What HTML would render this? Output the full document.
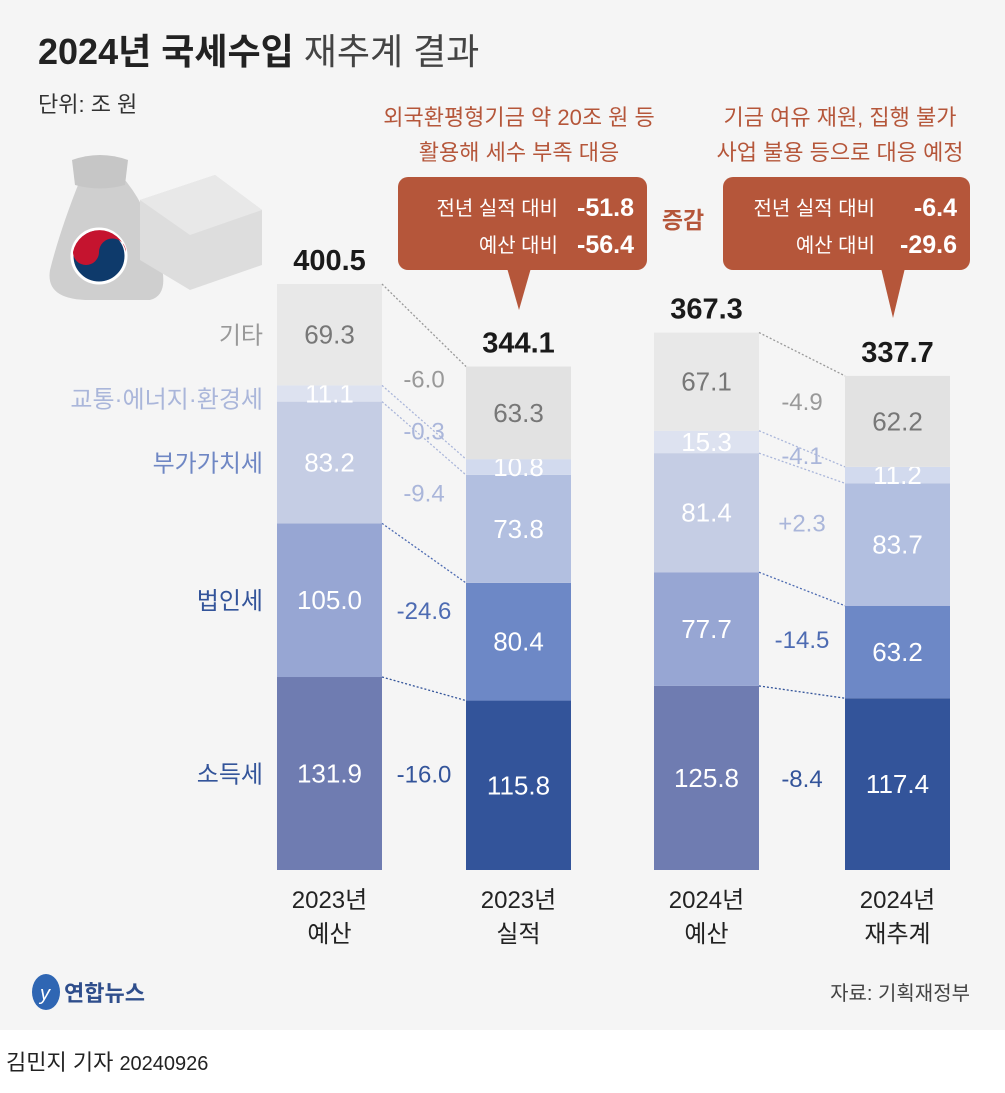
<!DOCTYPE html>
<html><head><meta charset="utf-8"><style>
body{margin:0;background:#fff;}
svg{display:block;font-family:"Liberation Sans","Noto Sans CJK KR",sans-serif;}
</style></head><body>
<svg id="chart" width="1005" height="1093" viewBox="0 0 1005 1093">
<rect x="0" y="0" width="1005" height="1030" fill="#f5f5f5"/>
<text x="38" y="64" font-size="36" font-weight="bold" fill="#222">2024년 국세수입 <tspan font-weight="normal" fill="#444">재추계 결과</tspan></text>
<text x="38" y="112" font-size="22" fill="#333">단위: 조 원</text>
<g>
<path d="M80 180 Q60 230 50 270 Q45 300 90 300 L150 300 Q170 295 160 260 Q150 210 125 180 Z" fill="#cfcfcf"/>
<path d="M72 160 Q100 150 128 160 L125 185 Q100 192 75 185 Z" fill="#c6c6c6"/>
<circle cx="99" cy="256" r="27" fill="#0e3a6b" stroke="#fff" stroke-width="3"/>
<path d="M73 252 A27 27 0 0 1 126 252 A13 13 0 0 0 99 252 A13 13 0 0 1 73 252Z" fill="#c5142f"/>
<path d="M140 200 L215 175 L262 210 L262 265 L190 290 L140 260Z" fill="#ddd"/>
<path d="M140 200 L215 175 L262 210 L190 235Z" fill="#e8e8e8"/>
</g>
<g id="callouts">
<text x="519" y="125" font-size="22" fill="#b5563a" text-anchor="middle">외국환평형기금 약 20조 원 등</text>
<text x="519" y="160" font-size="22" fill="#b5563a" text-anchor="middle">활용해 세수 부족 대응</text>
<text x="840" y="125" font-size="22" fill="#b5563a" text-anchor="middle">기금 여유 재원, 집행 불가</text>
<text x="840" y="160" font-size="22" fill="#b5563a" text-anchor="middle">사업 불용 등으로 대응 예정</text>
<g>
<rect x="398" y="177" width="249" height="93" rx="10" fill="#b5563a"/>
<path d="M507 268 L531 268 L519 310Z" fill="#b5563a"/>
<text x="558" y="215" font-size="20" fill="#fff" text-anchor="end">전년 실적 대비</text>
<text x="634" y="216" font-size="25" font-weight="bold" fill="#fff" text-anchor="end">-51.8</text>
<text x="558" y="252" font-size="20" fill="#fff" text-anchor="end">예산 대비</text>
<text x="634" y="253" font-size="25" font-weight="bold" fill="#fff" text-anchor="end">-56.4</text>
</g>
<g>
<rect x="723" y="177" width="247" height="93" rx="10" fill="#b5563a"/>
<path d="M881 268 L905 268 L893 318Z" fill="#b5563a"/>
<text x="875" y="215" font-size="20" fill="#fff" text-anchor="end">전년 실적 대비</text>
<text x="957" y="216" font-size="25" font-weight="bold" fill="#fff" text-anchor="end">-6.4</text>
<text x="875" y="252" font-size="20" fill="#fff" text-anchor="end">예산 대비</text>
<text x="957" y="253" font-size="25" font-weight="bold" fill="#fff" text-anchor="end">-29.6</text>
</g>
<text x="683" y="228" font-size="23" font-weight="bold" fill="#b5563a" text-anchor="middle">증감</text>
</g>
<g id="bars"></g>
<g>
<ellipse cx="46" cy="992" rx="14" ry="18" fill="#2f66b3"/>
<text x="40" y="1000" font-size="20" font-style="italic" fill="#fff">y</text>
<text x="64" y="1001" font-size="22" font-weight="bold" fill="#2f4e8c">연합뉴스</text>
</g>
<text x="970" y="1000" font-size="20" fill="#444" text-anchor="end">자료: 기획재정부</text>
<text x="6" y="1070" font-size="22" fill="#222">김민지 기자  <tspan font-size="20">20240926</tspan></text>
</svg>
<script>
const categories = ["2023년|예산","2023년|실적","2024년|예산","2024년|재추계"];
const taxNames = ["소득세","법인세","부가가치세","교통·에너지·환경세","기타"];
const incomeTax = [131.9,115.8,125.8,117.4];
const corpTax = [105.0,80.4,77.7,63.2];
const vat = [83.2,73.8,81.4,83.7];
const trafficTax = [11.1,10.8,15.3,11.2];
const otherTax = [69.3,63.3,67.1,62.2];
const totals = ["400.5","344.1","367.3","337.7"];
const deltas2023 = ["-16.0","-24.6","-9.4","-0.3","-6.0"];
const deltas2024 = ["-8.4","-14.5","+2.3","-4.1","-4.9"];

const series = [incomeTax, corpTax, vat, trafficTax, otherTax];
const NS = "http://www.w3.org/2000/svg";
const g = document.getElementById("bars");
const base = 870, scale = 586/400.5;
const y = v => base - v*scale;
const barX = [277,466,654,845], barW = 105;
const colorsBudget = ["#6f7cb1","#97a6d3","#c5cde4","#dde2f0","#e8e8e8"];
const colorsActual = ["#33549a","#6d88c6","#b2bfe0","#d2daee","#e2e2e2"];
const textColors = ["#fff","#fff","#fff","#fff","#777"];
const deltaColors = ["#33549a","#4d6bb2","#aab6da","#aab6da","#999"];
const labelColors = ["#33549a","#33549a","#6f87c4","#aab6da","#999"];

function mk(tag, attrs, txt){
  const e = document.createElementNS(NS, tag);
  for (const k in attrs) e.setAttribute(k, attrs[k]);
  if (txt !== undefined) e.textContent = txt;
  g.appendChild(e);
  return e;
}
const tops = [];
for (let b=0;b<4;b++){
  let cum=0; const t=[];
  const cols = (b%2===0)?colorsBudget:colorsActual;
  for (let s=0;s<5;s++){
    const v=series[s][b];
    const y0=y(cum), y1=y(cum+v);
    const r=mk("rect",{x:barX[b],y:y1,width:barW,height:y0-y1,fill:cols[s]});
    
    
    const tx=mk("text",{x:barX[b]+barW/2,y:(y0+y1)/2+9,"font-size":26,fill:textColors[s],"text-anchor":"middle"},v.toFixed(1));
    
    
    cum+=v; t.push(y1);
  }
  tops.push(t);
  const tt=mk("text",{x:barX[b]+barW/2,y:y(cum)-14,"font-size":29,"font-weight":"bold",fill:"#1a1a1a","text-anchor":"middle"},totals[b]);
  
  
  const parts=categories[b].split("|");
  const c1=mk("text",{x:barX[b]+barW/2,y:908,"font-size":24,fill:"#222","text-anchor":"middle"},parts[0]);
  
  
  const c2=mk("text",{x:barX[b]+barW/2,y:942,"font-size":24,fill:"#222","text-anchor":"middle"},parts[1]);
  
  
}
[[0,1,deltas2023],[2,3,deltas2024]].forEach(([a,b,d])=>{
  for (let s=0;s<5;s++){
    const l=mk("line",{x1:barX[a]+barW,y1:tops[a][s],x2:barX[b],y2:tops[b][s],stroke:deltaColors[s],"stroke-width":1.3,"stroke-dasharray":"2,2"});
    
    
  }
  const cx=(barX[a]+barW+barX[b])/2;
  let ys=[];
  ys[0]=(y(0)+tops[a][0])/2+9;
  ys[1]=(tops[a][0]+tops[a][1])/2+9+10;
  ys[2]=(tops[a][1]+tops[a][2])/2+9+(a===0?30:10);
  ys[3]=tops[a][3]+(a===0?54:33);
  ys[4]=tops[a][3]+(a===0?2:-21);
  for (let s=0;s<5;s++){
    const t=mk("text",{x:cx,y:ys[s],"font-size":24,fill:deltaColors[s],"text-anchor":"middle"},d[s]);
    
    
  }
});
for (let s=0;s<5;s++){
  let cum=0; for(let k=0;k<s;k++) cum+=series[k][0];
  const ym=(y(cum)+y(cum+series[s][0]))/2+9;
  const t=mk("text",{x:263,y:s===3?ym+5:ym,"font-size":24,fill:labelColors[s],"text-anchor":"end"},taxNames[s]);
  
  
}
</script>
</body></html>
